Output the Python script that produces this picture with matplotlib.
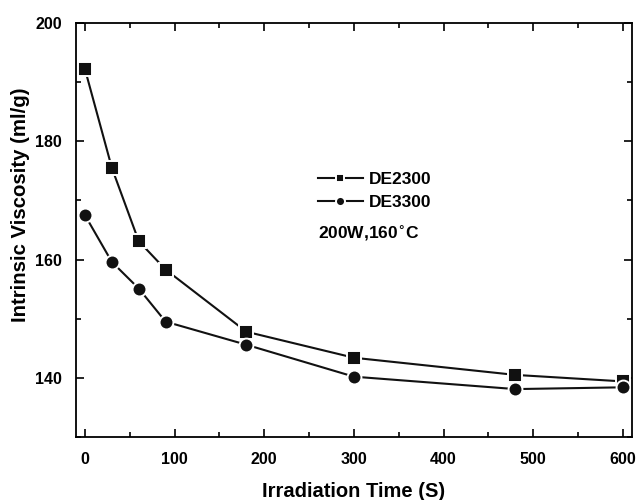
import matplotlib.pyplot as plt
from matplotlib.ticker import MultipleLocator

plt.rcParams['font.family'] = ['Liberation Sans', 'DejaVu Sans']
plt.rcParams['font.weight'] = 'bold'

time_s = [0, 30, 60, 90, 180, 300, 480, 600]
de2300 = [192.2, 175.5, 163.1, 158.3, 147.8, 143.4, 140.5, 139.4]
de3300 = [167.5, 159.6, 155.1, 149.5, 145.6, 140.2, 138.1, 138.4]

fig = plt.figure(figsize=(6.36, 5.0), dpi=100)
ax = fig.add_axes([0.1195, 0.126, 0.874, 0.828])

ax.plot(time_s, de2300, '-s', color='#111111', lw=1.5, ms=9.5,
        mec='white', mew=1.4, label='DE2300')
ax.plot(time_s, de3300, '-o', color='#111111', lw=1.5, ms=10,
        mec='white', mew=1.4, label='DE3300')

ax.set_xlim(-10, 610)
ax.set_ylim(130, 200)
ax.xaxis.set_major_locator(MultipleLocator(100))
ax.xaxis.set_minor_locator(MultipleLocator(50))
ax.yaxis.set_major_locator(MultipleLocator(20))
ax.yaxis.set_minor_locator(MultipleLocator(10))
ax.tick_params(which='both', direction='in', top=True, right=True,
               width=1.2, labelsize=11.5)
ax.tick_params(axis='x', pad=11)
ax.tick_params(axis='y', pad=10)
ax.tick_params(which='major', length=6)
ax.tick_params(which='minor', length=3.5)
for s in ax.spines.values():
    s.set_linewidth(1.3)

ax.set_xlabel('Irradiation Time (S)', fontsize=14.5, fontweight='bold')
ax.set_ylabel('Intrinsic Viscosity (ml/g)', fontsize=14.7, fontweight='bold')
ax.xaxis.set_label_coords(0.5, -0.108)
ax.yaxis.set_label_coords(-0.082, 0.56)

leg = ax.legend(loc='center left', bbox_to_anchor=(0.407, 0.594), frameon=False,
                fontsize=12.5, handlelength=2.6, handletextpad=0.35,
                labelspacing=0.45, markerscale=0.65)
ax.text(0.435, 0.493, '200W,160$^{\\circ}$C', transform=ax.transAxes,
        fontsize=12.5, fontweight='bold', va='center')

plt.savefig('out.png', dpi=100)
plt.close()
